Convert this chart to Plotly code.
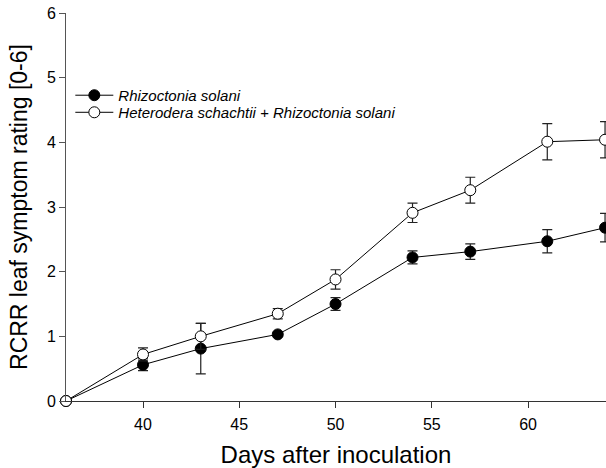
import plotly.graph_objects as go

days = [36, 40, 43, 47, 50, 54, 57, 61, 64]
rs_mean = [0, 0.56, 0.81, 1.03, 1.50, 2.22, 2.31, 2.47, 2.68]
rs_err = [0, 0.09, 0.39, 0.03, 0.10, 0.10, 0.12, 0.18, 0.22]
hs_mean = [0, 0.72, 1.00, 1.35, 1.88, 2.91, 3.26, 4.01, 4.04]
hs_err = [0, 0.10, 0.20, 0.08, 0.15, 0.15, 0.20, 0.28, 0.28]

name_rs = "<i>Rhizoctonia solani</i>"
name_hs = "<i>Heterodera schachtii + Rhizoctonia solani</i>"

fig = go.Figure()
fig.add_trace(go.Scatter(
    x=days, y=rs_mean, name=name_rs, mode="lines+markers",
    line=dict(color="black", width=1),
    marker=dict(symbol="circle", size=11, color="black", line=dict(color="black", width=1)),
    error_y=dict(type="data", array=rs_err, visible=True, color="#222", thickness=1.2, width=5),
    cliponaxis=False, legend="legend",
))
fig.add_trace(go.Scatter(
    x=days, y=hs_mean, name=name_hs, mode="lines+markers",
    line=dict(color="black", width=1),
    marker=dict(symbol="circle", size=11, color="white", line=dict(color="black", width=1)),
    error_y=dict(type="data", array=hs_err, visible=True, color="#222", thickness=1.2, width=5),
    cliponaxis=False, legend="legend2",
))

leg_common = dict(xanchor="left", yanchor="top", bgcolor="rgba(0,0,0,0)",
                  font=dict(size=15), itemwidth=38)

fig.update_layout(
    width=606, height=468,
    margin=dict(l=66, r=0, t=13, b=67),
    paper_bgcolor="white", plot_bgcolor="white",
    font=dict(family="Liberation Sans, Arial, sans-serif", color="black"),
    showlegend=True,
    legend=dict(x=0.008, y=0.83, **leg_common),
    legend2=dict(x=0.008, y=0.786, **leg_common),
)
fig.update_xaxes(
    range=[36, 64.05], tickvals=[40, 45, 50, 55, 60],
    showline=True, linecolor="#333", linewidth=1, mirror=False,
    ticks="outside", ticklen=6, tickcolor="#333",
    showgrid=False, zeroline=False, automargin=False,
    tickfont=dict(size=16), ticklabelstandoff=3,
    title=dict(text="Days after inoculation", font=dict(size=24), standoff=17),
)
fig.update_yaxes(
    range=[0, 6], tickvals=[0, 1, 2, 3, 4, 5, 6],
    showline=True, linecolor="#555", linewidth=1,
    ticks="outside", ticklen=6, tickcolor="#555",
    showgrid=False, zeroline=False, automargin=False,
    tickfont=dict(size=16),
    title=dict(text="RCRR leaf symptom rating [0-6]", font=dict(size=23), standoff=12),
)

fig.write_html(
    "out.html",
    config={"displayModeBar": False},
    post_script="document.body.style.margin='0';document.body.style.overflow='hidden';",
)
